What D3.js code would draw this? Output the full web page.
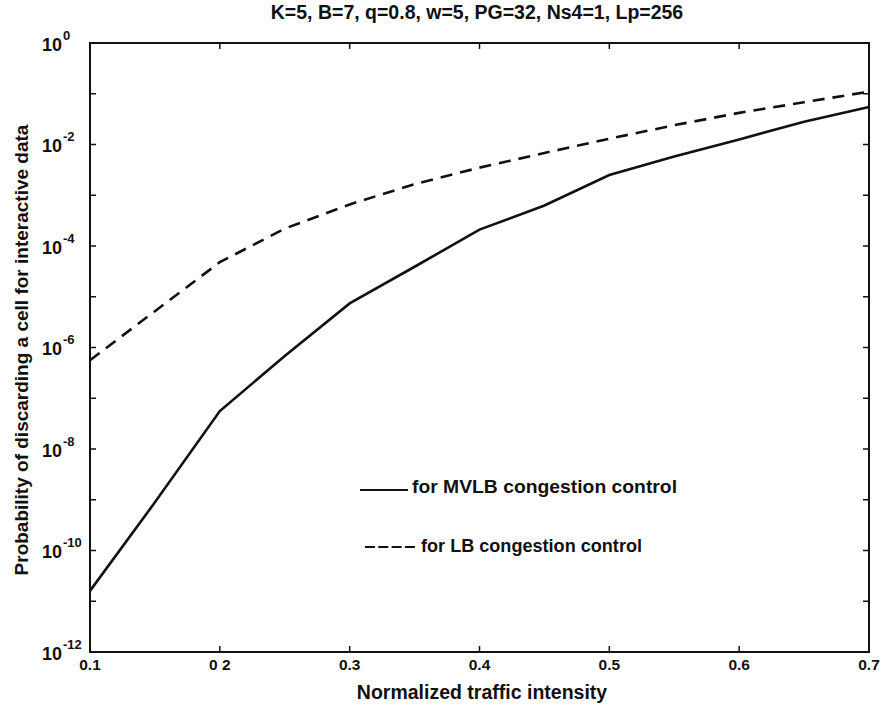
<!DOCTYPE html>
<html><head><meta charset="utf-8">
<script src="https://cdn.jsdelivr.net/npm/d3@7"></script>
<style>body{margin:0;background:#fff}svg{display:block}text{font-family:"Liberation Sans",Arial,sans-serif;fill:#111;font-weight:bold}</style>
</head><body><svg id="c" width="890" height="709"></svg>
<script>
const xValues = [0.1,0.15,0.2,0.25,0.3,0.35,0.4,0.45,0.5,0.55,0.6,0.65,0.7];
const mvlbValues = [1.6e-11,8.9e-10,5.6e-8,6.8e-7,7.4e-6,3.9e-5,2.1e-4,6.3e-4,2.5e-3,5.8e-3,1.26e-2,2.8e-2,5.5e-2];
const lbValues = [5.6e-7,5.2e-6,4.8e-5,2.2e-4,6.6e-4,1.66e-3,3.5e-3,6.8e-3,1.3e-2,2.4e-2,4.2e-2,6.8e-2,1.1e-1];
const xTicks = [0.1,0.2,0.3,0.4,0.5,0.6,0.7];
const xTickLabels = ["0.1","0 2","0.3","0.4","0.5","0.6","0.7"];
const yTickExps = [0,-2,-4,-6,-8,-10,-12];
const yMinorExps = [-1,-3,-5,-7,-9,-11];
const title = "K=5, B=7, q=0.8, w=5, PG=32, Ns4=1, Lp=256";
const xTitle = "Normalized traffic intensity";
const yTitle = "Probability of discarding a cell for interactive data";
const legendLabels = ["for MVLB congestion control","for LB congestion control"];

const L=90,R=869,T=43,B=652;
const svg=d3.select("#c");
const x=d3.scaleLinear().domain([0.1,0.7]).range([L,R]);
const y=d3.scaleLog().domain([1e-12,1]).range([B,T]);

svg.append("rect").attr("x",L).attr("y",T).attr("width",R-L).attr("height",B-T)
  .attr("fill","none").attr("stroke","#111").attr("stroke-width",2);

const tl=6;
const g=svg.append("g").attr("stroke","#111").attr("stroke-width",1.5);
xTicks.forEach(v=>{
  g.append("line").attr("x1",x(v)).attr("x2",x(v)).attr("y1",B).attr("y2",B-tl);
  g.append("line").attr("x1",x(v)).attr("x2",x(v)).attr("y1",T).attr("y2",T+tl);
});
yTickExps.concat(yMinorExps).forEach(e=>{
  const yy=y(Math.pow(10,e));
  g.append("line").attr("x1",L).attr("x2",L+tl).attr("y1",yy).attr("y2",yy);
  g.append("line").attr("x1",R).attr("x2",R-tl).attr("y1",yy).attr("y2",yy);
});

xTicks.forEach((v,i)=>{
  svg.append("text").attr("x",x(v)).attr("y",670).attr("text-anchor","middle")
    .attr("font-size",15.5).text(xTickLabels[i]);
});
yTickExps.forEach(e=>{
  const yy=y(Math.pow(10,e));
  svg.append("text").attr("x",62).attr("y",yy+7.5).attr("text-anchor","end")
    .attr("font-size",18).text("10");
  svg.append("text").attr("x",63).attr("y",yy-3.5).attr("font-size",13)
    .text(e===0?"0":"-"+(-e));
});

const line=d3.line().x((d,i)=>x(xValues[i])).y(d=>y(d));
svg.append("path").datum(mvlbValues).attr("d",line).attr("fill","none")
  .attr("stroke","#111").attr("stroke-width",2.6);
svg.append("path").datum(lbValues).attr("d",line).attr("fill","none")
  .attr("stroke","#111").attr("stroke-width",2.6).attr("stroke-dasharray","12,8");

svg.append("line").attr("x1",360).attr("x2",408).attr("y1",490).attr("y2",490)
  .attr("stroke","#111").attr("stroke-width",2.2);
svg.append("text").attr("x",412).attr("y",493).attr("font-size",18.5)
  .attr("textLength",265).attr("lengthAdjust","spacingAndGlyphs").text(legendLabels[0]);
svg.append("line").attr("x1",365).attr("x2",415).attr("y1",547).attr("y2",547)
  .attr("stroke","#111").attr("stroke-width",2.2).attr("stroke-dasharray","10,3.3");
svg.append("text").attr("x",421).attr("y",552).attr("font-size",18.5)
  .attr("textLength",221).attr("lengthAdjust","spacingAndGlyphs").text(legendLabels[1]);

svg.append("text").attr("x",477).attr("y",19).attr("text-anchor","middle")
  .attr("font-size",19.5).text(title);
svg.append("text").attr("x",482).attr("y",699).attr("text-anchor","middle")
  .attr("font-size",19.5).text(xTitle);
svg.append("text").attr("transform","translate(28,350) rotate(-90)").attr("text-anchor","middle")
  .attr("font-size",19).text(yTitle);
</script></body></html>
